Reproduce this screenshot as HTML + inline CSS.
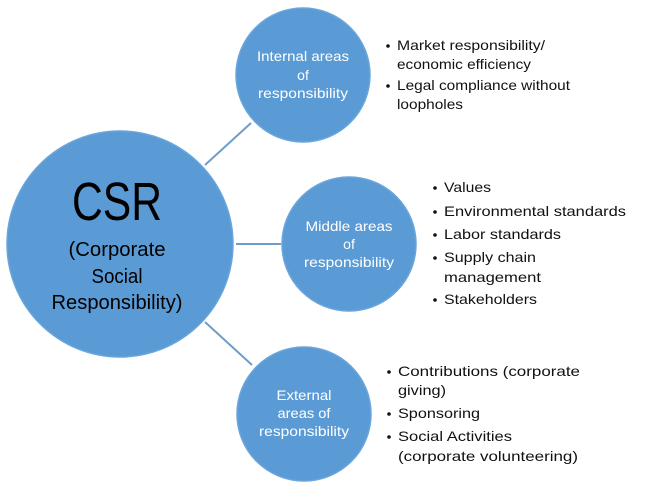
<!DOCTYPE html>
<html><head><meta charset="utf-8"><style>
html,body{margin:0;padding:0;background:#fff;}
svg{display:block;}
text{font-family:"Liberation Sans",sans-serif;}
</style></head><body>
<svg width="651" height="491" viewBox="0 0 651 491" xmlns="http://www.w3.org/2000/svg">
<g stroke="#6f9cc9" stroke-width="2">
<line x1="205" y1="165" x2="251" y2="123"/>
<line x1="236" y1="244" x2="281" y2="244"/>
<line x1="205" y1="322" x2="252" y2="365"/>
</g>
<g fill="#5b9bd5" stroke="#6aa5dc" stroke-width="1.5">
<circle cx="120" cy="244" r="113"/>
<circle cx="303" cy="75" r="67"/>
<circle cx="349" cy="244" r="67"/>
<circle cx="304" cy="414" r="67"/>
</g>
<g fill="#000" text-anchor="middle">
<text x="117" y="220" font-size="54" textLength="90" lengthAdjust="spacingAndGlyphs">CSR</text>
<text x="117" y="256" font-size="20" textLength="97" lengthAdjust="spacingAndGlyphs">(Corporate</text>
<text x="117" y="283" font-size="20" textLength="51" lengthAdjust="spacingAndGlyphs">Social</text>
<text x="117" y="309" font-size="20" textLength="131" lengthAdjust="spacingAndGlyphs">Responsibility)</text>
</g>
<g fill="#fff" text-anchor="middle" font-size="14">
<text x="303" y="61" textLength="92" lengthAdjust="spacingAndGlyphs">Internal areas</text>
<text x="303" y="80">of</text>
<text x="303" y="98" textLength="90" lengthAdjust="spacingAndGlyphs">responsibility</text>
<text x="349" y="231" textLength="87" lengthAdjust="spacingAndGlyphs">Middle areas</text>
<text x="349" y="249">of</text>
<text x="349" y="267" textLength="90" lengthAdjust="spacingAndGlyphs">responsibility</text>
<text x="304" y="400" textLength="55" lengthAdjust="spacingAndGlyphs">External</text>
<text x="304" y="418" textLength="53" lengthAdjust="spacingAndGlyphs">areas of</text>
<text x="304" y="436" textLength="90" lengthAdjust="spacingAndGlyphs">responsibility</text>
</g>
<g fill="#111" font-size="14">
<text x="397" y="50" textLength="148" lengthAdjust="spacingAndGlyphs">Market responsibility/</text>
<text x="397" y="69" textLength="134" lengthAdjust="spacingAndGlyphs">economic efficiency</text>
<text x="397" y="90" textLength="173" lengthAdjust="spacingAndGlyphs">Legal compliance without</text>
<text x="397" y="109" textLength="66" lengthAdjust="spacingAndGlyphs">loopholes</text>
<text x="444" y="192" textLength="47" lengthAdjust="spacingAndGlyphs">Values</text>
<text x="444" y="216" textLength="182" lengthAdjust="spacingAndGlyphs">Environmental standards</text>
<text x="444" y="239" textLength="117" lengthAdjust="spacingAndGlyphs">Labor standards</text>
<text x="444" y="262" textLength="92" lengthAdjust="spacingAndGlyphs">Supply chain</text>
<text x="444" y="282" textLength="97" lengthAdjust="spacingAndGlyphs">management</text>
<text x="444" y="304" textLength="93" lengthAdjust="spacingAndGlyphs">Stakeholders</text>
<text x="398" y="376" textLength="182" lengthAdjust="spacingAndGlyphs">Contributions (corporate</text>
<text x="398" y="395" textLength="48" lengthAdjust="spacingAndGlyphs">giving)</text>
<text x="398" y="418" textLength="82" lengthAdjust="spacingAndGlyphs">Sponsoring</text>
<text x="398" y="441" textLength="114" lengthAdjust="spacingAndGlyphs">Social Activities</text>
<text x="398" y="461" textLength="180" lengthAdjust="spacingAndGlyphs">(corporate volunteering)</text>
</g>
<g fill="#111">
<circle cx="388" cy="46" r="1.8"/>
<circle cx="388" cy="86" r="1.8"/>
<circle cx="435" cy="188" r="1.8"/>
<circle cx="435" cy="212" r="1.8"/>
<circle cx="435" cy="235" r="1.8"/>
<circle cx="435" cy="258" r="1.8"/>
<circle cx="435" cy="300" r="1.8"/>
<circle cx="389" cy="372" r="1.8"/>
<circle cx="389" cy="414" r="1.8"/>
<circle cx="389" cy="437" r="1.8"/>
</g>
</svg>
</body></html>
